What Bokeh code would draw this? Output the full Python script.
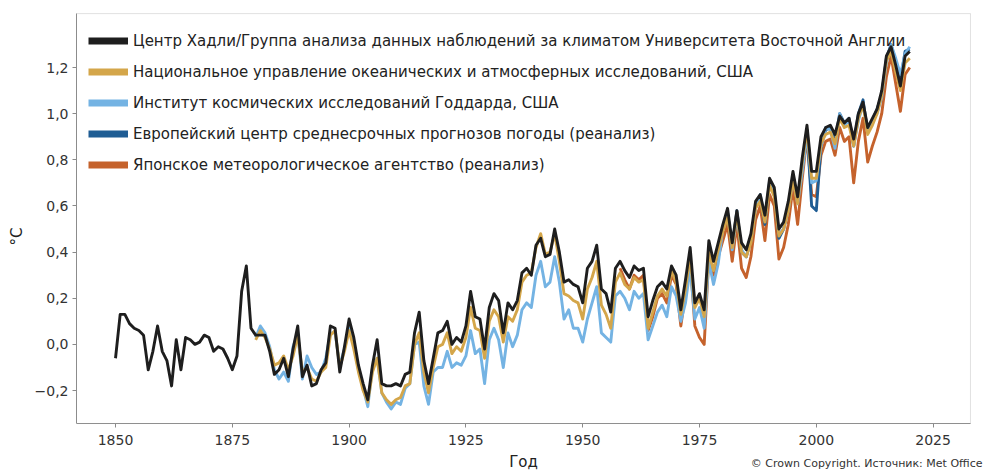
from bokeh.plotting import figure
from bokeh.models import (Range1d, FixedTicker, CustomJSTickFormatter, Legend,
                          LegendItem, Label, BoxAnnotation)
from bokeh.embed import file_html
from bokeh.resources import INLINE

# ---------------- data (°C relative to 1850-1900) ----------------
years_hadcrut = list(range(1850, 2021))
hadcrut = [
    -0.06, 0.13, 0.13, 0.09, 0.07, 0.06, 0.04, -0.11, -0.03, 0.08,
    -0.03, -0.07, -0.18, 0.02, -0.11, 0.03, 0.02, 0.00, 0.01, 0.04,
    0.03, -0.03, -0.01, -0.02, -0.06, -0.11, -0.05, 0.23, 0.34, 0.07,
    0.04, 0.04, 0.04, -0.03, -0.13, -0.11, -0.06, -0.14, -0.02, 0.08,
    -0.14, -0.09, -0.18, -0.17, -0.11, -0.08, 0.08, 0.07, -0.12, -0.01,
    0.11, 0.03, -0.09, -0.17, -0.24, -0.09, 0.02, -0.17, -0.18, -0.18,
    -0.17, -0.18, -0.13, -0.12, 0.05, 0.14, -0.07, -0.17, -0.06, 0.05,
    0.06, 0.10, 0.00, 0.03, 0.01, 0.08, 0.23, 0.12, 0.11, -0.02,
    0.16, 0.22, 0.19, 0.05, 0.18, 0.15, 0.19, 0.31, 0.33, 0.30,
    0.43, 0.46, 0.38, 0.39, 0.50, 0.40, 0.27, 0.28, 0.26, 0.25,
    0.18, 0.33, 0.36, 0.43, 0.24, 0.22, 0.14, 0.33, 0.36, 0.32,
    0.29, 0.34, 0.32, 0.33, 0.12, 0.19, 0.25, 0.27, 0.24, 0.34,
    0.30, 0.15, 0.28, 0.42, 0.18, 0.22, 0.15, 0.45, 0.36, 0.44,
    0.52, 0.59, 0.44, 0.58, 0.44, 0.41, 0.48, 0.62, 0.65, 0.56,
    0.72, 0.68, 0.50, 0.53, 0.62, 0.75, 0.64, 0.81, 0.95, 0.75,
    0.75, 0.90, 0.94, 0.95, 0.91, 0.99, 0.96, 0.98, 0.89, 1.00,
    1.05, 0.94, 0.98, 1.02, 1.10, 1.25, 1.29, 1.21, 1.12, 1.25,
    1.27,
]

years_noaa = list(range(1880, 2021))
noaa = [
    0.02, 0.06, 0.03, -0.02, -0.09, -0.08, -0.05, -0.11, -0.05, 0.04,
    -0.12, -0.10, -0.15, -0.16, -0.12, -0.10, 0.04, 0.06, -0.10, -0.03,
    0.06, -0.02, -0.12, -0.20, -0.25, -0.12, -0.06, -0.21, -0.24, -0.26,
    -0.24, -0.23, -0.18, -0.17, 0.00, 0.05, -0.12, -0.21, -0.10, -0.01,
    0.00, 0.05, -0.04, -0.01, -0.03, 0.03, 0.16, 0.07, 0.06, -0.06,
    0.10, 0.15, 0.12, 0.01, 0.12, 0.10, 0.15, 0.27, 0.30, 0.31,
    0.42, 0.48, 0.39, 0.40, 0.48, 0.36, 0.22, 0.21, 0.19, 0.18,
    0.11, 0.24, 0.29, 0.36, 0.17, 0.13, 0.07, 0.27, 0.31, 0.26,
    0.24, 0.29, 0.27, 0.28, 0.07, 0.14, 0.21, 0.24, 0.21, 0.32,
    0.27, 0.13, 0.24, 0.38, 0.16, 0.20, 0.12, 0.40, 0.32, 0.41,
    0.49, 0.55, 0.42, 0.57, 0.40, 0.38, 0.44, 0.59, 0.62, 0.53,
    0.69, 0.64, 0.47, 0.50, 0.58, 0.71, 0.61, 0.79, 0.93, 0.72,
    0.72, 0.87, 0.91, 0.92, 0.87, 0.98, 0.94, 0.95, 0.86, 0.98,
    1.04, 0.91, 0.95, 1.00, 1.08, 1.23, 1.27, 1.18, 1.10, 1.22,
    1.24,
]

years_giss = list(range(1880, 2021))
giss = [
    0.03, 0.08, 0.05, -0.01, -0.11, -0.15, -0.12, -0.16, -0.01, 0.05,
    -0.15, -0.05, -0.10, -0.13, -0.12, -0.06, 0.05, 0.05, -0.09, -0.02,
    0.07, 0.00, -0.11, -0.19, -0.27, -0.10, -0.06, -0.21, -0.25, -0.28,
    -0.25, -0.26, -0.19, -0.17, 0.00, 0.01, -0.18, -0.26, -0.12, -0.10,
    -0.10, -0.03, -0.10, -0.08, -0.09, -0.05, 0.06, -0.04, -0.02, -0.17,
    0.02, 0.07, 0.02, -0.10, 0.05, -0.01, 0.04, 0.15, 0.18, 0.16,
    0.30, 0.36, 0.25, 0.27, 0.38, 0.27, 0.11, 0.15, 0.07, 0.07,
    0.01, 0.11, 0.18, 0.25, 0.05, 0.03, 0.01, 0.21, 0.23, 0.20,
    0.15, 0.23, 0.20, 0.22, 0.02, 0.08, 0.14, 0.17, 0.12, 0.25,
    0.21, 0.10, 0.18, 0.33, 0.11, 0.16, 0.07, 0.36, 0.26, 0.35,
    0.50, 0.57, 0.41, 0.56, 0.41, 0.38, 0.45, 0.59, 0.65, 0.54,
    0.71, 0.66, 0.48, 0.50, 0.58, 0.72, 0.61, 0.75, 0.91, 0.70,
    0.71, 0.86, 0.94, 0.93, 0.85, 1.00, 0.95, 0.97, 0.86, 0.97,
    1.04, 0.93, 0.97, 1.00, 1.07, 1.22, 1.30, 1.24, 1.17, 1.26,
    1.29,
]

years_era5 = list(range(1979, 2021))
era5 = [
    0.42, 0.50, 0.57, 0.42, 0.58, 0.40, 0.38, 0.45, 0.60, 0.63,
    0.52, 0.70, 0.66, 0.46, 0.50, 0.59, 0.73, 0.62, 0.77, 0.93,
    0.60, 0.58, 0.86, 0.93, 0.94, 0.88, 1.00, 0.96, 0.98, 0.86,
    1.00, 1.06, 0.92, 0.97, 1.02, 1.08, 1.24, 1.30, 1.22, 1.14,
    1.27, 1.28,
]

years_jra55 = list(range(1958, 2021))
jra55 = [
    0.33, 0.28, 0.24, 0.30, 0.28, 0.30, 0.06, 0.12, 0.20, 0.22,
    0.18, 0.30, 0.26, 0.08, 0.22, 0.37, 0.08, 0.03, 0.00, 0.38,
    0.30, 0.38, 0.45, 0.52, 0.36, 0.52, 0.33, 0.29, 0.38, 0.54,
    0.60, 0.45, 0.65, 0.60, 0.37, 0.42, 0.52, 0.68, 0.52, 0.72,
    0.90, 0.65, 0.64, 0.82, 0.88, 0.89, 0.82, 0.94, 0.88, 0.90,
    0.70, 0.88, 0.98, 0.79, 0.86, 0.92, 1.00, 1.16, 1.25, 1.13,
    1.01, 1.17, 1.20,
]

labels = [
    "Центр Хадли/Группа анализа данных наблюдений за климатом Университета Восточной Англии",
    "Национальное управление океанических и атмосферных исследований, США",
    "Институт космических исследований Годдарда, США",
    "Европейский центр среднесрочных прогнозов погоды (реанализ)",
    "Японское метеорологическое агентство (реанализ)",
]
colors = ["#1e1e1e", "#d4a64a", "#74b3e3", "#1f5d94", "#c5622c"]

x_ticks = [1850, 1875, 1900, 1925, 1950, 1975, 2000, 2025]
y_ticks = [-0.2, 0.0, 0.2, 0.4, 0.6, 0.8, 1.0, 1.2]

# visible plot box (data limits of the drawn box)
X0, X1 = 1841.65, 2033.0
Y0, Y1 = -0.343, 1.434

FONT = "DejaVu Sans"

# ---------------- figure ----------------
# the frame covers the whole canvas right/top/bottom so that the caption
# below the axis is not clipped; the visible box is drawn separately
p = figure(width=984, height=472, output_backend="svg", toolbar_location=None,
           x_range=Range1d(X0, 2036.0), y_range=Range1d(-0.5553, 1.4907),
           min_border_left=76, min_border_right=0, min_border_top=0,
           min_border_bottom=0)
p.background_fill_color = "white"
p.border_fill_color = "white"
p.outline_line_color = None
p.xgrid.visible = False
p.ygrid.visible = False

p.add_layout(BoxAnnotation(left=X0, right=X1, bottom=Y0, top=Y1,
                           fill_alpha=0, line_color="#9a9a9a", line_width=1))

series = [
    (years_jra55, jra55, colors[4]),
    (years_era5, era5, colors[3]),
    (years_giss, giss, colors[2]),
    (years_noaa, noaa, colors[1]),
    (years_hadcrut, hadcrut, colors[0]),
]
for xs, ys, c in series:
    p.line(xs, ys, line_color=c, line_width=2.9, line_join="round")

# legend swatches: thick one-point lines (draw nothing in the plot area)
series_legend = [
    (years_hadcrut, hadcrut), (years_noaa, noaa), (years_giss, giss),
    (years_era5, era5), (years_jra55, jra55),
]
items = []
for lab, c, (xs, ys) in zip(labels, colors, series_legend):
    r = p.line(xs[:1], ys[:1], line_color=c, line_width=7)
    items.append(LegendItem(label=lab, renderers=[r]))
legend = Legend(items=items, location=(12, 292), margin=0, padding=0,
                spacing=0, glyph_width=40, glyph_height=31, label_height=31,
                label_standoff=5, border_line_alpha=0, background_fill_alpha=0,
                label_text_font=FONT, label_text_font_size="15px",
                label_text_color="#222222")
p.add_layout(legend)

# axes
for ax in (p.xaxis[0], p.yaxis[0]):
    ax.axis_line_color = "#8a8a8a"
    ax.major_tick_line_color = "#8a8a8a"
    ax.major_tick_out = 4
    ax.major_tick_in = 0
    ax.minor_tick_line_color = None
    ax.major_label_text_font = FONT
    ax.major_label_text_font_size = "14px"
    ax.major_label_text_color = "#333333"
    ax.axis_label_text_font = FONT
    ax.axis_label_text_font_size = "15px"
    ax.axis_label_text_font_style = "normal"
    ax.axis_label_text_color = "#222222"

p.xaxis.fixed_location = Y0
p.xaxis.bounds = (X0, X1)
p.yaxis.bounds = (Y0, Y1)
p.xaxis.ticker = FixedTicker(ticks=x_ticks)
p.yaxis.ticker = FixedTicker(ticks=y_ticks)
p.yaxis.formatter = CustomJSTickFormatter(
    code="return tick.toFixed(1).replace('.', ',').replace('-', '\u2212');")
p.xaxis.major_label_standoff = 7
p.yaxis.major_label_standoff = 4
p.xaxis.axis_label = "Год"
p.xaxis.axis_label_standoff = 5
p.yaxis.axis_label = "°C"
p.yaxis.axis_label_standoff = 6

p.add_layout(Label(x=906, y=9, x_units="screen", y_units="screen",
                   text="© Crown Copyright. Источник: Met Office",
                   text_align="right", text_baseline="middle",
                   text_font=FONT, text_font_size="11px",
                   text_color="#333333"))

open("out.html", "w").write(file_html(p, INLINE))
